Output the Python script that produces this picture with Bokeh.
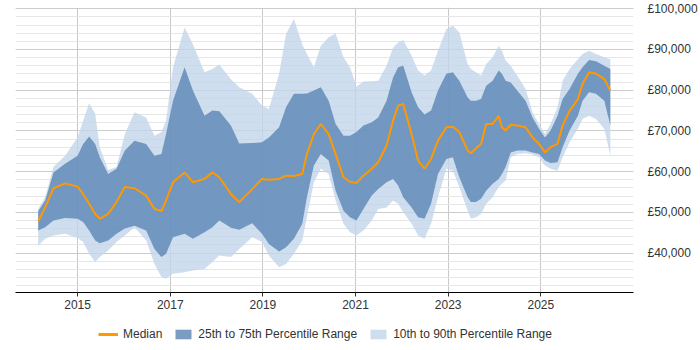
from bokeh.plotting import figure
from bokeh.layouts import column
from bokeh.models import (Range1d, LinearAxis, FixedTicker, Legend, LegendItem,
                          CustomJSTickFormatter)
from bokeh.embed import file_html
from bokeh.resources import INLINE

years = [2014.15, 2014.30, 2014.48, 2014.73, 2015.00, 2015.12, 2015.25, 2015.38, 2015.48, 2015.66,
         2015.84, 2016.02, 2016.23, 2016.48, 2016.66, 2016.81, 2016.91, 2017.06, 2017.31, 2017.49,
         2017.74, 2017.91, 2018.06, 2018.31, 2018.49, 2018.77, 2018.98, 2019.13, 2019.35, 2019.50,
         2019.67, 2019.85, 2019.95, 2020.10, 2020.25, 2020.42, 2020.57, 2020.74, 2020.88, 2021.02,
         2021.17, 2021.35, 2021.49, 2021.67, 2021.81, 2021.92, 2022.03, 2022.21, 2022.35, 2022.49,
         2022.63, 2022.78, 2022.96, 2023.10, 2023.24, 2023.42, 2023.49, 2023.60, 2023.71, 2023.82,
         2023.96, 2024.09, 2024.16, 2024.24, 2024.35, 2024.49, 2024.67, 2024.82, 2024.96, 2025.09,
         2025.21, 2025.36, 2025.47, 2025.62, 2025.80, 2025.90, 2026.04, 2026.19, 2026.37, 2026.50]

p10 = [41800, 43500, 44300, 44700, 43700, 42700, 39800, 37800, 39000, 40600,
       42700, 44300, 46300, 43100, 37300, 34100, 33700, 34900, 35300, 35700,
       36100, 37800, 39400, 39000, 41000, 43900, 42700, 39400, 36500, 37300,
       39800, 43100, 48800, 57400, 60700, 59400, 52900, 47200, 45100, 44300,
       45500, 48000, 50800, 51200, 52900, 52100, 50000, 47200, 44300, 43500,
       47200, 53700, 60700, 60200, 56200, 50400, 48400, 48800, 49600, 52100,
       53700, 56200, 57000, 57800, 63500, 64300, 64500, 64200, 63500, 61500,
       60700, 60200, 63500, 67200, 70500, 72900, 73700, 72900, 70500, 63900]

p25 = [45500, 46300, 48000, 48600, 48400, 47600, 45500, 43100, 42400, 43100,
       44700, 46000, 46700, 45500, 41000, 39000, 39800, 43900, 44700, 43500,
       45100, 46300, 48000, 46200, 45700, 47300, 44700, 42200, 40400, 41400,
       43500, 47200, 53700, 61500, 64300, 62700, 55300, 50400, 48800, 48000,
       50800, 54100, 55700, 57400, 58200, 56600, 53700, 51200, 48800, 48400,
       52100, 59400, 63100, 63500, 58600, 53700, 52500, 52500, 53300, 55300,
       57000, 58200, 59400, 61100, 64700, 65200, 65200, 64700, 64300, 62700,
       62100, 62300, 66000, 70100, 73700, 77400, 79500, 79100, 77400, 71300]

median = [47800, 51200, 55900, 57100, 56300, 54500, 52100, 49600, 48400, 49600,
          52500, 56200, 55900, 54100, 50800, 50300, 52900, 57400, 59800, 57400,
          58200, 59800, 58600, 54500, 52500, 55700, 58200, 58000, 58200, 59000,
          58900, 59400, 64300, 69200, 71700, 69200, 64300, 58600, 57500, 57200,
          59000, 60700, 62300, 66400, 72500, 76200, 76600, 69200, 62700, 60700,
          63100, 67600, 70900, 71000, 69700, 65200, 64500, 65700, 66800, 71700,
          71700, 73700, 70900, 70100, 71500, 71300, 70900, 68400, 66800, 64700,
          66000, 66800, 71300, 74900, 77800, 81500, 84400, 84100, 82700, 79900]

p75 = [50300, 52900, 59800, 61900, 63900, 66800, 68600, 66800, 63500, 59400,
       60700, 65200, 67600, 66800, 63900, 64300, 69200, 77400, 85600, 79900,
       73700, 75000, 74800, 71300, 66900, 67000, 67200, 68400, 70900, 75800,
       79100, 79100, 79200, 79900, 80700, 77400, 71700, 68800, 68800, 69700,
       71300, 72100, 73300, 77400, 83100, 85600, 86000, 79500, 75800, 74000,
       75000, 79900, 84000, 84400, 82300, 78200, 77400, 77400, 77800, 81100,
       82300, 84800, 84000, 82300, 81900, 79900, 77400, 73300, 70500, 68400,
       70100, 73700, 77800, 80300, 84000, 85600, 87400, 87100, 86000, 85200]

p90 = [50800, 53700, 61200, 63900, 68400, 72500, 76800, 74200, 66000, 60400,
       61100, 69200, 74600, 73300, 68800, 69700, 72500, 85600, 95400, 91300,
       84400, 85200, 86300, 82700, 80700, 79100, 76200, 75400, 84000, 93800,
       97500, 91300, 88900, 85600, 90900, 93000, 93900, 88100, 85600, 80900,
       82100, 82200, 82300, 86000, 90500, 91700, 92300, 88500, 84800, 83600,
       84800, 89700, 95000, 95800, 94200, 86400, 85200, 84400, 83600, 86400,
       88100, 90900, 89700, 87300, 86000, 83600, 80300, 74600, 71700, 69200,
       71700, 75800, 82300, 85200, 87600, 88900, 89700, 88900, 88100, 87600]

x_ticks = [2015, 2017, 2019, 2021, 2023, 2025]
y_major = [40000, 50000, 60000, 70000, 80000, 90000, 100000]
y_minor = list(range(32000, 100001, 2000))
labels = ["Median", "25th to 75th Percentile Range", "10th to 90th Percentile Range"]

FONT = "Liberation Sans"
LIGHT = "#c3d6ea"
DARK = "#5a85b5"
ORANGE = "#ff9900"

p = figure(width=700, height=318, output_backend="svg", toolbar_location=None,
           x_range=Range1d(2013.66, 2027.0), y_range=Range1d(30300, 100300),
           min_border_left=15, min_border_right=63,
           min_border_top=7, min_border_bottom=26)
p.yaxis.visible = False
p.outline_line_color = None

r_light = p.varea(x=years, y1=p10, y2=p90, fill_color=LIGHT, fill_alpha=0.8)
r_dark = p.varea(x=years, y1=p25, y2=p75, fill_color=DARK, fill_alpha=0.8)
r_med = p.line(x=years, y=median, line_color=ORANGE, line_width=2)

# x axis
xa = p.xaxis[0]
xa.ticker = FixedTicker(ticks=x_ticks)
xa.minor_tick_line_color = None
xa.major_tick_out = 4
xa.major_tick_in = 0
xa.axis_line_color = "#000000"
xa.major_tick_line_color = "#333333"
xa.major_label_text_font = FONT
xa.major_label_text_font_size = "12px"
xa.major_label_text_color = "#333333"
xa.major_label_standoff = 3

# right y axis
yticker = FixedTicker(ticks=y_major, minor_ticks=y_minor)
ya = LinearAxis(ticker=yticker,
                formatter=CustomJSTickFormatter(code="return '\u00a3' + Math.round(tick).toLocaleString('en-GB');"))
ya.axis_line_color = None
ya.major_tick_line_color = None
ya.minor_tick_line_color = None
ya.major_label_text_font = FONT
ya.major_label_text_font_size = "12px"
ya.major_label_text_color = "#333333"
ya.major_label_standoff = 8
p.add_layout(ya, "right")

# grids
p.xgrid[0].ticker = FixedTicker(ticks=x_ticks)
p.xgrid[0].grid_line_color = "#c8c8c8"
p.ygrid[0].ticker = yticker
p.ygrid[0].grid_line_color = "#cccccc"
p.ygrid[0].minor_grid_line_color = "#e6e6e6"

# legend strip: a small figure whose renderers reuse the chart's data,
# shown far outside its visible range so only their legend swatches appear
lg = figure(width=700, height=32, output_backend="svg", toolbar_location=None,
            x_range=Range1d(0, 1), y_range=Range1d(0, 1),
            x_axis_location=None, y_axis_location=None,
            min_border_left=0, min_border_right=0, min_border_top=0, min_border_bottom=0)
lg.outline_line_color = None
lg.xgrid.visible = False
lg.ygrid.visible = False
l_med = lg.line(x=years, y=median, line_color=ORANGE, line_width=3)
l_dark = lg.varea(x=years, y1=p25, y2=p75, fill_color=DARK, fill_alpha=0.8)
l_light = lg.varea(x=years, y1=p10, y2=p90, fill_color=LIGHT, fill_alpha=0.8)

legend = Legend(items=[LegendItem(label=labels[0], renderers=[l_med]),
                       LegendItem(label=labels[1], renderers=[l_dark]),
                       LegendItem(label=labels[2], renderers=[l_light])],
                orientation="horizontal", location=(83, 9),
                label_text_font=FONT, label_text_font_size="12px", label_text_color="#333333",
                glyph_width=20, glyph_height=12, label_standoff=5, spacing=11,
                padding=0, margin=0, border_line_color=None, background_fill_alpha=0)
lg.add_layout(legend, "center")

layout = column(p, lg, spacing=0)
open("out.html", "w").write(file_html(layout, INLINE))
